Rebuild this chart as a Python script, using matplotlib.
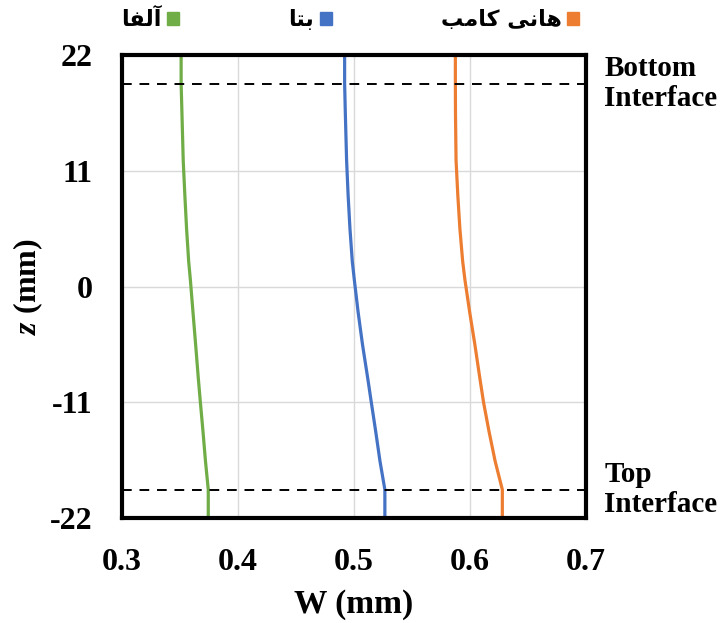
import matplotlib
matplotlib.use("Agg")
import matplotlib.pyplot as plt
import matplotlib.patches as mpatches
from matplotlib.transforms import blended_transform_factory

# ---- data ----
z = [22, 19.3, 16.5, 12, 8.7, 5.5, 2.4, 0.6, -2.4, -5.5, -8.7, -11, -13.7, -16.6, -19.3, -22]
w_alpha = [0.351, 0.351, 0.3517, 0.3528, 0.3542, 0.3557, 0.3575, 0.359, 0.3612, 0.3635,
           0.3658, 0.3676, 0.3698, 0.372, 0.3744, 0.3744]
w_beta = [0.492, 0.492, 0.4926, 0.4937, 0.495, 0.4966, 0.4986, 0.5004, 0.5036, 0.5074,
          0.5119, 0.515, 0.5187, 0.5225, 0.5267, 0.5267]
w_honey = [0.5875, 0.5875, 0.5876, 0.5881, 0.5896, 0.5914, 0.5938, 0.5958, 0.5998, 0.6043,
           0.6086, 0.6118, 0.6164, 0.6218, 0.628, 0.628]

# Arabic-script labels (presentation forms, visual order): آلفا, بتا, هانی کامب
label_alpha = "\uFE8E\uFED4\uFEDF\uFE81"
label_beta = "\uFE8E\uFE98\uFE91"
label_honey = "\uFE90\uFEE3\uFE8E\uFB90 \uFBFD\uFEE7\uFE8E\uFEEB"

interfaces = [19.3, -19.3]
interface_labels = ["Bottom\nInterface", "Top\nInterface"]

x_ticks = [0.3, 0.4, 0.5, 0.6, 0.7]
y_ticks = [-22, -11, 0, 11, 22]

c_alpha = "#70AD47"
c_beta = "#4472C4"
c_honey = "#ED7D31"

serif = ["Liberation Serif", "DejaVu Serif"]
plt.rcParams["mathtext.fontset"] = "custom"
plt.rcParams["mathtext.bfit"] = "Liberation Serif:italic:bold"
plt.rcParams["mathtext.it"] = "Liberation Serif:italic"
plt.rcParams["mathtext.rm"] = "Liberation Serif"
plt.rcParams["mathtext.bf"] = "Liberation Serif:bold"

fig = plt.figure(figsize=(7.27, 6.23), dpi=100)
ax = fig.add_axes([0.1678, 0.1685, 0.638, 0.743])

ax.plot(w_alpha, z, color=c_alpha, lw=2.3, zorder=3)
ax.plot(w_beta, z, color=c_beta, lw=2.3, zorder=3)
ax.plot(w_honey, z, color=c_honey, lw=2.3, zorder=3)

for zi in interfaces:
    ax.axhline(zi, color="black", lw=1.4, ls=(0, (5, 4)), zorder=4)

ax.set_xlim(0.3, 0.7)
ax.set_ylim(-22, 22)
ax.set_xticks(x_ticks)
ax.set_yticks(y_ticks)
ax.set_xticklabels([f"{v:.1f}" for v in x_ticks], fontfamily=serif, fontweight="bold", fontsize=23)
ax.set_yticklabels([str(v) for v in y_ticks], fontfamily=serif, fontweight="bold", fontsize=23)
ax.tick_params(axis="both", length=0)
ax.tick_params(axis="x", pad=21.5)
ax.tick_params(axis="y", pad=21)

ax.grid(True, color="#d9d9d9", lw=1.0, zorder=0)
ax.set_axisbelow(True)
for s in ax.spines.values():
    s.set_linewidth(3.0)
    s.set_color("black")
    s.set_zorder(5)

ax.set_xlabel("W (mm)", fontfamily=serif, fontweight="bold", fontsize=24, labelpad=9)
ax.set_ylabel(r"$\mathbfit{z}$ (mm)", fontfamily=serif, fontweight="bold", fontsize=23, labelpad=4)

trans = blended_transform_factory(ax.transAxes, ax.transData)
for zi, txt in zip(interfaces, interface_labels):
    ax.text(1.04, zi, txt, transform=trans, ha="left", va="center",
            fontfamily=serif, fontweight="bold", fontsize=21, linespacing=1.15)

handles = [mpatches.Patch(color=c_alpha), mpatches.Patch(color=c_beta), mpatches.Patch(color=c_honey)]
fig.legend(handles, [label_alpha, label_beta, label_honey],
           loc="center right", bbox_to_anchor=(0.797, 0.968), bbox_transform=fig.transFigure,
           ncol=3, frameon=False, markerfirst=False,
           handlelength=0.55, handleheight=0.55, handletextpad=0.25,
           columnspacing=4.9, borderaxespad=0, borderpad=0,
           prop={"family": ["DejaVu Sans"], "weight": "bold", "size": 16})

fig.savefig("out.png", dpi=100)
